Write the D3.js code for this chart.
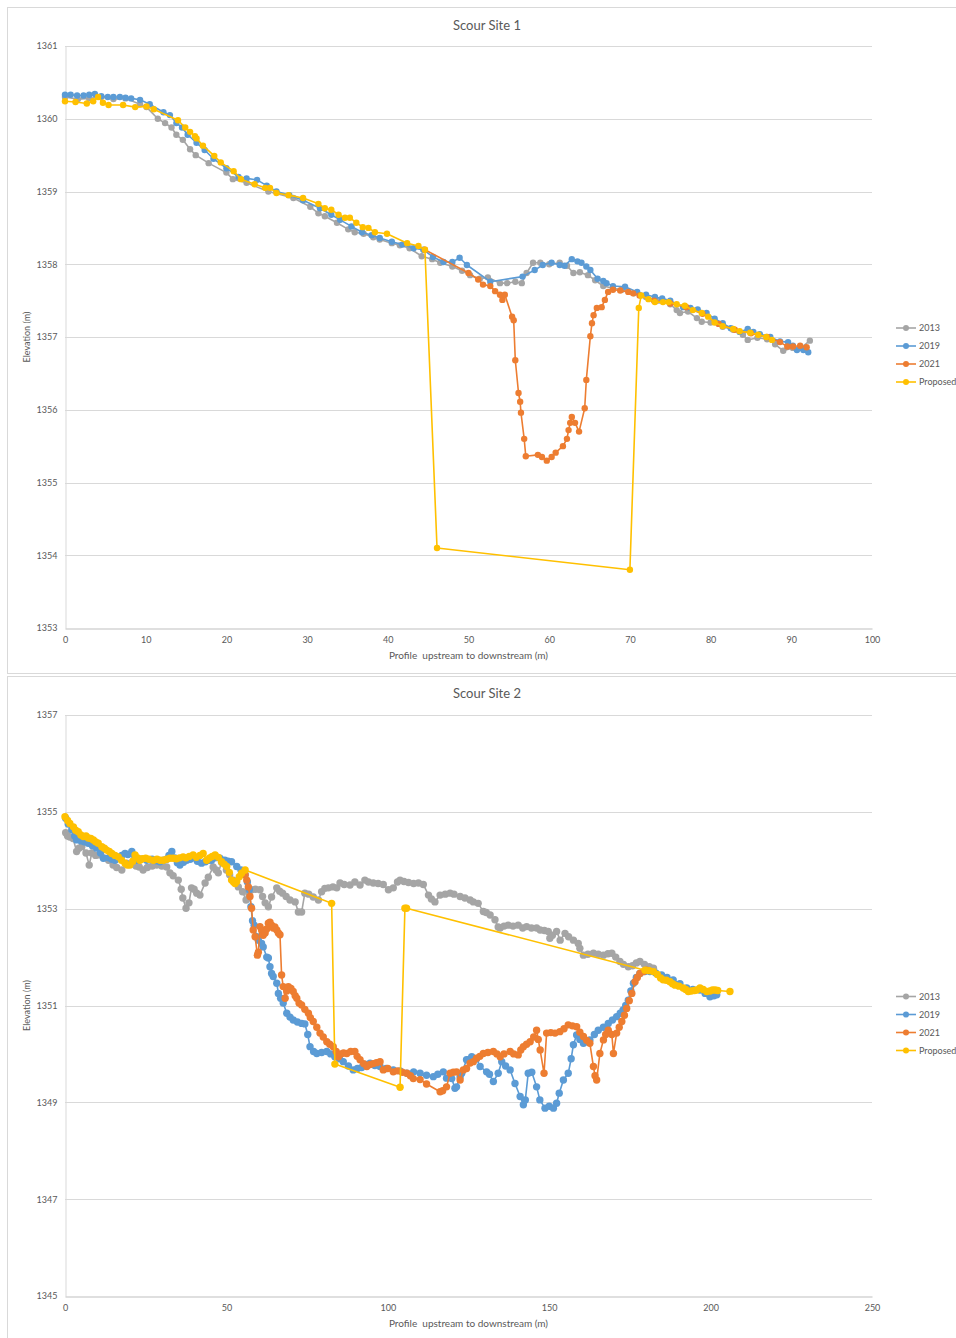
<!DOCTYPE html>
<html><head><meta charset="utf-8">
<script src="https://cdn.jsdelivr.net/npm/d3@7"></script>
<style>body{margin:0;background:#fff}svg{display:block}text{font-family:Lato,"Liberation Sans",sans-serif;fill:#595959;white-space:pre}</style>
</head><body>
<svg id="c" width="956" height="1338"></svg>
<script>
const seriesNames = ["2013","2019","2021","Proposed"];
const seriesColors = ["#A5A5A5","#5B9BD5","#ED7D31","#FFC000"];

// ---------- Scour Site 1 ----------
const site1XTicks = [0,10,20,30,40,50,60,70,80,90,100];
const site1YTicks = [1353,1354,1355,1356,1357,1358,1359,1360,1361];
const site1_2013 = [[0,1360.3],[1.6,1360.27],[3,1360.28],[4.5,1360.3],[6,1360.27],[7.5,1360.28],[9.3,1360.2],[10.1,1360.16],[11.5,1360.0],[12.4,1359.94],[13.2,1359.88],[13.8,1359.78],[14.6,1359.71],[15.5,1359.58],[16.2,1359.5],[17.8,1359.39],[20,1359.26],[20.8,1359.17],[22.5,1359.12],[25.2,1359.0],[28.3,1358.91],[30.4,1358.79],[31.4,1358.7],[32.2,1358.66],[33.7,1358.57],[35.1,1358.48],[35.9,1358.44],[37,1358.42],[38.2,1358.37],[39,1358.34],[40.5,1358.29],[41.5,1358.26],[42.7,1358.22],[44.2,1358.11],[45.5,1358.07],[46.5,1358.02],[48,1357.97],[49.2,1357.91],[50.2,1357.85],[51.4,1357.8],[52.4,1357.82],[53.9,1357.74],[54.8,1357.74],[55.8,1357.76],[56.6,1357.74],[57.2,1357.88],[58,1358.02],[58.9,1358.02],[60,1358.0],[61.3,1358.02],[62.2,1357.98],[63,1357.88],[63.8,1357.89],[64.8,1357.85],[65.7,1357.78],[66.7,1357.7],[67.9,1357.67],[69,1357.65],[70.5,1357.6],[72,1357.55],[73.5,1357.5],[75,1357.45],[75.8,1357.37],[76.2,1357.33],[77.2,1357.35],[78.3,1357.26],[78.9,1357.21],[80,1357.2],[81.5,1357.14],[82.8,1357.1],[84,1357.03],[84.6,1356.96],[85.8,1356.99],[87,1356.97],[88,1356.9],[89,1356.81],[90.2,1356.85],[91.2,1356.85],[92.3,1356.95]];
const site1_2019 = [[0,1360.33],[0.7,1360.33],[1.5,1360.32],[2.3,1360.32],[3,1360.33],[3.7,1360.34],[4.5,1360.31],[5.3,1360.3],[6,1360.3],[6.8,1360.3],[7.5,1360.29],[8.2,1360.28],[9.3,1360.26],[10.5,1360.2],[12.2,1360.09],[13.0,1360.05],[13.8,1359.94],[14.5,1359.88],[15.2,1359.78],[16.3,1359.67],[17.3,1359.57],[18.4,1359.45],[20,1359.32],[21.5,1359.2],[22.5,1359.18],[23.8,1359.16],[25,1359.08],[26.2,1359.0],[27.8,1358.95],[29.5,1358.88],[31.6,1358.77],[33,1358.68],[34.1,1358.61],[35.5,1358.52],[36.8,1358.44],[38,1358.4],[39,1358.36],[40.5,1358.31],[41.8,1358.27],[43.2,1358.22],[44.4,1358.2],[45.6,1358.1],[46.9,1358.03],[48,1358.03],[48.9,1358.09],[49.8,1357.99],[52.7,1357.76],[56.7,1357.83],[58.2,1357.92],[59.2,1357.99],[60.3,1358.02],[61.3,1357.99],[61.9,1357.98],[62.8,1358.07],[63.5,1358.04],[64,1358.02],[64.6,1357.97],[65.1,1357.92],[66,1357.8],[66.7,1357.77],[67.1,1357.74],[67.9,1357.7],[69.4,1357.69],[70.9,1357.62],[72,1357.58],[73.1,1357.55],[74,1357.53],[75,1357.5],[76.6,1357.41],[77.5,1357.4],[78.4,1357.38],[79.5,1357.33],[80.5,1357.25],[81.5,1357.19],[82.5,1357.12],[83.6,1357.07],[84.6,1357.11],[85.3,1357.07],[86.1,1357.04],[87.4,1357.0],[88.6,1356.94],[89.6,1356.93],[90.2,1356.88],[90.7,1356.82],[91.5,1356.82],[92.1,1356.79]];
const site1_2021 = [[44.6,1358.2],[50,1357.88],[51.2,1357.79],[51.8,1357.72],[52.7,1357.7],[53.3,1357.63],[53.9,1357.58],[54.2,1357.51],[54.5,1357.58],[55.4,1357.28],[55.6,1357.23],[55.8,1356.68],[56.2,1356.23],[56.4,1356.11],[56.5,1355.96],[56.9,1355.6],[57.1,1355.36],[58.6,1355.38],[59.1,1355.35],[59.7,1355.3],[60.3,1355.35],[60.8,1355.41],[61.7,1355.5],[62.2,1355.6],[62.4,1355.72],[62.6,1355.82],[62.8,1355.9],[63.2,1355.82],[63.7,1355.7],[64.4,1356.02],[64.6,1356.41],[65.1,1357.01],[65.3,1357.19],[65.5,1357.3],[65.9,1357.4],[66.5,1357.41],[66.9,1357.51],[67.3,1357.62],[67.9,1357.65],[68.8,1357.64],[69.8,1357.62],[70.4,1357.6],[71.2,1357.57],[73,1357.5],[75,1357.46],[77,1357.41],[79,1357.32],[81,1357.18],[83,1357.1],[85,1357.05],[87,1357.0],[88.6,1356.93],[89.5,1356.87],[90.2,1356.87],[91.1,1356.88],[91.9,1356.86]];
const site1_proposed = [[0,1360.24],[1.3,1360.23],[2.7,1360.21],[3.5,1360.24],[4.1,1360.3],[4.7,1360.22],[5.4,1360.19],[7.2,1360.19],[8.7,1360.16],[10.1,1360.17],[11.0,1360.13],[14,1359.98],[14.9,1359.88],[15.5,1359.82],[16.1,1359.76],[16.3,1359.73],[17.1,1359.63],[18.5,1359.49],[19.3,1359.4],[20.9,1359.28],[21.8,1359.17],[23.5,1359.1],[24.8,1359.05],[25.4,1359.05],[26.2,1358.98],[27.7,1358.95],[29.5,1358.91],[31.4,1358.83],[32.2,1358.77],[33,1358.75],[33.9,1358.68],[34.7,1358.64],[35.3,1358.64],[36.1,1358.57],[36.9,1358.51],[37.6,1358.5],[38.4,1358.44],[39.9,1358.42],[42.4,1358.29],[43.8,1358.25],[44.6,1358.2],[46.1,1354.1],[70.0,1353.8],[71.1,1357.4],[71.4,1357.57],[72.3,1357.52],[73.1,1357.48],[74.1,1357.48],[74.8,1357.48],[75.8,1357.45],[76.8,1357.43],[77.8,1357.37],[78.9,1357.33],[79.7,1357.28],[80.5,1357.2],[81.5,1357.15],[82.8,1357.11],[83.6,1357.08],[84.9,1357.06],[85.9,1357.03],[86.9,1357.0],[87.6,1356.96]];

// ---------- Scour Site 2 ----------
const site2XTicks = [0,50,100,150,200,250];
const site2YTicks = [1345,1347,1349,1351,1353,1355,1357];
const site2_2013 = [[0.2,1354.57],[0.8,1354.5],[1.5,1354.48],[2.5,1354.45],[3.6,1354.18],[4.3,1354.25],[5.2,1354.28],[6.5,1354.15],[7.5,1353.9],[8.3,1354.15],[9.5,1354.1],[10.8,1354.11],[12,1354.05],[13.5,1354.0],[14.9,1353.9],[16,1353.85],[17.6,1353.8],[19.1,1353.94],[20.5,1353.92],[22,1353.88],[23,1353.86],[24.2,1353.8],[25.5,1353.85],[27,1353.88],[28.4,1353.9],[30,1353.88],[31.5,1353.86],[32.5,1353.74],[33.5,1353.68],[35.1,1353.59],[36,1353.4],[36.5,1353.22],[37.5,1353.01],[38.4,1353.12],[39.2,1353.43],[40,1353.4],[40.8,1353.32],[41.8,1353.28],[43.4,1353.53],[44.4,1353.65],[45.9,1353.86],[46.8,1353.8],[47.5,1353.74],[48.5,1353.96],[50,1353.8],[51,1353.7],[52.1,1353.59],[53.7,1353.45],[55,1353.35],[56.1,1353.18],[57,1353.3],[57.8,1353.39],[59,1353.4],[60.4,1353.39],[61.2,1353.25],[62,1353.12],[63,1353.04],[64,1353.24],[65.6,1353.43],[66.5,1353.36],[67.4,1353.32],[68.5,1353.25],[69.7,1353.18],[71.3,1353.14],[72.3,1352.93],[73.3,1352.93],[74.3,1353.32],[75.5,1353.3],[76.9,1353.24],[78.5,1353.18],[79.5,1353.35],[80.5,1353.42],[81.6,1353.43],[83,1353.45],[84.2,1353.43],[85.2,1353.53],[86.5,1353.5],[88.3,1353.49],[89.8,1353.55],[91.4,1353.49],[92.9,1353.59],[94,1353.55],[95.5,1353.53],[97,1353.52],[98.6,1353.5],[100.2,1353.39],[101.7,1353.43],[103,1353.55],[103.8,1353.59],[105,1353.56],[106.4,1353.54],[108,1353.52],[109.5,1353.53],[111,1353.5],[112.6,1353.28],[113.5,1353.2],[114.6,1353.14],[116.2,1353.28],[117.8,1353.3],[119.3,1353.32],[120.5,1353.3],[122.4,1353.25],[123.9,1353.22],[125.5,1353.18],[126.5,1353.14],[128,1353.11],[129.6,1352.94],[130.5,1352.92],[131.7,1352.87],[133.2,1352.77],[134.2,1352.62],[134.8,1352.6],[136,1352.64],[137.3,1352.66],[138.8,1352.64],[140.4,1352.66],[141.8,1352.6],[143,1352.63],[144.5,1352.6],[146.1,1352.6],[147.2,1352.56],[148.5,1352.55],[149.7,1352.53],[150.2,1352.39],[151,1352.45],[152.3,1352.53],[153.4,1352.35],[154.9,1352.49],[156,1352.42],[157.5,1352.35],[159,1352.28],[159.5,1352.18],[160.6,1352.04],[162,1352.06],[163.7,1352.08],[165.2,1352.06],[166.8,1352.04],[168.2,1352.07],[169.4,1352.08],[170.6,1352.0],[171.9,1351.91],[173,1351.85],[174.5,1351.8],[175.8,1351.82],[177,1351.88],[178.1,1351.91],[179.5,1351.85],[181,1351.8],[182.3,1351.77]];
const site2_2019 = [[0.2,1354.87],[1,1354.75],[2.1,1354.63],[3,1354.5],[3.6,1354.42],[5,1354.4],[6,1354.38],[7.2,1354.35],[8.5,1354.3],[9.8,1354.25],[11,1354.15],[11.9,1354.04],[13.5,1354.05],[14.5,1354.02],[15.5,1354.0],[16.8,1354.05],[17.6,1354.1],[18.6,1354.14],[19.5,1354.12],[20.7,1354.18],[21.5,1354.1],[22.2,1354.0],[23.5,1354.02],[25.3,1354.0],[27,1354.02],[28.3,1353.99],[29.4,1353.97],[30.5,1354.0],[31.5,1354.02],[32.2,1354.1],[33.1,1354.18],[34,1354.05],[34.8,1353.95],[35.6,1353.9],[36.7,1353.96],[37.7,1354.0],[38.8,1354.02],[39.8,1354.05],[41,1353.98],[42.3,1353.94],[43.5,1353.97],[44.5,1354.0],[45.4,1354.0],[46.5,1354.05],[48,1354.04],[49.5,1354.0],[50.5,1353.98],[51.6,1353.97],[53.2,1353.87],[54.5,1353.8],[55.8,1353.7],[56.5,1353.55],[57.1,1353.39],[57.6,1353.04],[58.1,1352.75],[58.6,1352.66],[59.4,1352.42],[59.9,1352.35],[60.9,1352.28],[61.4,1352.21],[62.5,1352.0],[63,1351.98],[63.5,1351.8],[64,1351.66],[64.5,1351.6],[65.6,1351.46],[66.1,1351.25],[66.8,1351.15],[67.6,1351.05],[68.7,1350.84],[69.7,1350.76],[70.7,1350.7],[72,1350.66],[73.3,1350.63],[74.3,1350.62],[75.2,1350.4],[75.9,1350.15],[77,1350.05],[78,1350.01],[79.5,1350.03],[81.1,1350.05],[82.3,1350.0],[83.6,1349.94],[85,1349.9],[86.2,1349.84],[87.8,1349.75],[89.3,1349.67],[90.6,1349.7],[91.9,1349.72],[93.2,1349.78],[94.5,1349.81],[96,1349.76],[97.6,1349.74],[99.5,1349.7],[101.7,1349.67],[103.8,1349.65],[105.9,1349.6],[108,1349.63],[110,1349.6],[112,1349.56],[114.1,1349.53],[115.5,1349.58],[117.2,1349.63],[118.2,1349.5],[119.8,1349.49],[120.8,1349.29],[121.3,1349.32],[122.4,1349.53],[122.9,1349.6],[124.4,1349.88],[125,1349.88],[126,1349.94],[127.5,1349.9],[128.6,1349.74],[130.6,1349.63],[131.5,1349.58],[132.7,1349.43],[134.2,1349.6],[135.3,1349.84],[136.5,1349.75],[137.9,1349.67],[139.4,1349.39],[141,1349.12],[142,1348.95],[142.6,1349.05],[143.5,1349.6],[144.6,1349.62],[146.1,1349.32],[147.1,1349.05],[148.7,1348.88],[150,1348.92],[151.3,1348.88],[152.3,1348.98],[153.1,1349.19],[154.4,1349.46],[155.9,1349.6],[156.8,1349.9],[157.5,1350.19],[158.5,1350.39],[159.5,1350.3],[160.6,1350.22],[161.5,1350.25],[162.6,1350.29],[164,1350.4],[165.2,1350.49],[166.8,1350.55],[168.3,1350.63],[169.6,1350.7],[170.9,1350.77],[172,1350.84],[172.9,1350.91],[173.7,1351.0],[174.5,1351.11],[175.3,1351.3],[176.1,1351.46],[177,1351.58],[178.1,1351.66],[179.6,1351.7],[181.2,1351.7],[183,1351.67],[184.8,1351.63],[186.5,1351.58],[188.4,1351.53],[190.5,1351.45],[192.6,1351.36],[194.5,1351.33],[196.7,1351.32],[198.3,1351.25],[199.8,1351.18],[201,1351.2],[201.9,1351.22]];
const site2_2021 = [[55.8,1353.7],[56.3,1353.59],[56.8,1353.45],[57.3,1353.25],[57.8,1353.01],[58.3,1352.56],[58.9,1352.42],[59.6,1352.04],[59.9,1352.1],[60.4,1352.63],[60.9,1352.56],[61.4,1352.45],[62,1352.5],[62.5,1352.58],[63,1352.7],[63.5,1352.72],[64,1352.66],[64.5,1352.6],[65,1352.62],[65.6,1352.56],[66.1,1352.5],[66.6,1352.46],[67.1,1351.63],[67.6,1351.39],[68.2,1351.15],[68.7,1351.3],[69.2,1351.39],[70,1351.35],[70.7,1351.29],[71.3,1351.2],[71.8,1351.15],[72.5,1351.05],[73.3,1351.01],[74.3,1350.92],[75.4,1350.84],[76,1350.75],[76.9,1350.67],[78,1350.55],[79,1350.43],[80,1350.35],[81.1,1350.25],[82,1350.2],[83.1,1350.15],[84,1350.05],[84.7,1349.94],[85.5,1350.0],[86.3,1350.02],[87.3,1350.01],[88.5,1350.05],[89.8,1350.05],[90.5,1349.95],[91.4,1349.88],[92.5,1349.8],[93.5,1349.74],[94.5,1349.78],[95.5,1349.8],[96.5,1349.82],[97.6,1349.84],[98.6,1349.67],[100,1349.7],[101.7,1349.63],[103,1349.65],[104.5,1349.62],[105.9,1349.6],[107,1349.55],[107.9,1349.49],[110,1349.47],[112,1349.38],[116.2,1349.22],[117,1349.24],[118.2,1349.32],[119.3,1349.6],[120.3,1349.62],[121.3,1349.63],[122.4,1349.46],[123.4,1349.67],[124.4,1349.7],[125.5,1349.81],[126.5,1349.84],[127.5,1349.91],[128.5,1349.95],[129.6,1350.01],[131,1350.03],[132.7,1350.05],[133.8,1350.0],[134.8,1349.94],[136,1350.0],[137.9,1350.05],[139,1350.0],[140.4,1349.98],[141.2,1350.08],[142,1350.15],[143,1350.2],[144.1,1350.25],[145.2,1350.35],[146.1,1350.49],[146.6,1350.3],[147.2,1350.08],[148.4,1349.6],[149.2,1350.43],[150.5,1350.44],[151.8,1350.43],[153.3,1350.46],[154.6,1350.52],[155.9,1350.6],[157.2,1350.58],[158.5,1350.56],[159.5,1350.45],[160.6,1350.36],[161.6,1350.28],[162.6,1350.22],[163.7,1349.74],[164.2,1349.55],[164.7,1349.46],[165.7,1350.01],[166.8,1350.29],[167.5,1350.4],[168.3,1350.49],[169.4,1350.4],[169.9,1350.01],[170.9,1350.43],[171.7,1350.55],[172.5,1350.67],[173.3,1350.8],[174,1350.94],[174.8,1351.1],[175.6,1351.25],[176.6,1351.49],[177.3,1351.58],[178.1,1351.66],[179.2,1351.7],[180.2,1351.73]];
const site2_proposed = [[0,1354.9],[0.8,1354.82],[1.5,1354.76],[2.6,1354.69],[3.3,1354.62],[4.1,1354.59],[4.9,1354.52],[5.7,1354.49],[6.5,1354.5],[7.2,1354.46],[8,1354.45],[8.8,1354.42],[9.5,1354.38],[10.3,1354.35],[11.4,1354.28],[12.2,1354.25],[12.9,1354.21],[13.7,1354.18],[14.5,1354.14],[15.5,1354.1],[16.5,1354.07],[17.5,1354.0],[18.6,1353.94],[19.3,1353.9],[20.1,1353.9],[21,1353.98],[21.7,1354.11],[22.5,1354.05],[23.2,1354.0],[24,1354.03],[25,1354.04],[26,1354.02],[27.4,1354.0],[28.5,1354.02],[29.5,1354.0],[30.5,1354.0],[31.5,1354.02],[32.5,1354.04],[33.5,1354.04],[34.5,1354.03],[35.5,1354.05],[36.6,1354.07],[37.5,1354.05],[38.5,1354.08],[39.7,1354.11],[40.7,1354.06],[41.8,1354.1],[42.8,1354.14],[43.9,1354.0],[44.8,1354.05],[45.6,1354.08],[46.5,1354.11],[47.5,1354.06],[48.5,1353.97],[49.3,1353.92],[50.1,1353.87],[50.9,1353.75],[51.6,1353.59],[52.2,1353.55],[52.7,1353.52],[53.2,1353.56],[54,1353.66],[54.7,1353.73],[55.8,1353.8],[82.6,1353.11],[83.6,1349.79],[103.8,1349.31],[105.3,1353.01],[105.8,1353.01],[179.7,1351.73],[181,1351.72],[182.3,1351.7],[183.5,1351.64],[184.5,1351.57],[185.3,1351.53],[186.3,1351.52],[187.4,1351.49],[188.2,1351.45],[189,1351.42],[190.2,1351.4],[191.5,1351.36],[192.3,1351.33],[193.1,1351.29],[194,1351.3],[195,1351.31],[195.7,1351.32],[196.7,1351.36],[197.7,1351.33],[198.8,1351.29],[199.8,1351.3],[200.6,1351.32],[201.4,1351.32],[202.2,1351.31],[206,1351.29]];

const svg = d3.select("#c");

function drawChart(cfg) {
  const g = svg.append("g");
  g.append("rect").attr("x", cfg.panel[0]).attr("y", cfg.panel[1])
    .attr("width", cfg.panel[2]).attr("height", cfg.panel[3])
    .attr("fill", "#fff").attr("stroke", "#d9d9d9").attr("stroke-width", 1);

  const x = d3.scaleLinear().domain(cfg.xDomain).range([cfg.plot.left, cfg.plot.right]);
  const y = d3.scaleLinear().domain(cfg.yDomain).range([cfg.plot.bottom, cfg.plot.top]);

  g.append("g").selectAll("line").data(cfg.yTicks.filter(t => t !== cfg.yDomain[0])).join("line")
    .attr("x1", x(cfg.xDomain[0])).attr("x2", x(cfg.xDomain[1]))
    .attr("y1", d => Math.round(y(d)) + 0.5).attr("y2", d => Math.round(y(d)) + 0.5)
    .attr("stroke", "#d9d9d9").attr("stroke-width", 1);

  const yAxis = d3.axisLeft(y).tickValues(cfg.yTicks).tickSize(0).tickPadding(8).tickFormat(d3.format("d"));
  const yG = g.append("g").attr("transform", `translate(${cfg.plot.left + 0.5},0)`).call(yAxis);
  yG.select(".domain").attr("stroke", "#d9d9d9");
  yG.selectAll("text").attr("font-size", 9).attr("fill", "#595959").style("font-family", "Lato, 'Liberation Sans', sans-serif");

  const xAxis = d3.axisBottom(x).tickValues(cfg.xTicks).tickSize(0).tickPadding(8).tickFormat(d3.format("d"));
  const xG = g.append("g").attr("transform", `translate(0,${Math.round(cfg.plot.bottom) + 0.5})`).call(xAxis);
  xG.select(".domain").attr("stroke", "#bfbfbf");
  xG.selectAll("text").attr("font-size", 9).attr("fill", "#595959").style("font-family", "Lato, 'Liberation Sans', sans-serif");

  g.append("text").attr("x", cfg.titleX).attr("y", cfg.titleY).attr("text-anchor", "middle")
    .attr("font-size", 13).text(cfg.title);
  g.append("text").attr("x", (cfg.plot.left + cfg.plot.right) / 2).attr("y", cfg.plot.bottom + 31)
    .attr("text-anchor", "middle").attr("font-size", 10).attr("xml:space", "preserve")
    .text("Profile  upstream to downstream (m)");
  g.append("text").attr("transform", `translate(30,${(cfg.plot.top + cfg.plot.bottom) / 2}) rotate(-90)`)
    .attr("text-anchor", "middle").attr("font-size", 9).text("Elevation (m)");

  const line = d3.line().x(d => x(d[0])).y(d => y(d[1]));
  cfg.series.forEach((s, i) => {
    const sg = g.append("g");
    sg.append("path").datum(s).attr("d", line).attr("fill", "none")
      .attr("stroke", seriesColors[i]).attr("stroke-width", 1.6).attr("stroke-linejoin", "round");
    sg.selectAll("circle").data(s).join("circle")
      .attr("cx", d => x(d[0])).attr("cy", d => y(d[1])).attr("r", cfg.r)
      .attr("fill", seriesColors[i]);
  });

  const lg = g.append("g");
  seriesNames.forEach((n, i) => {
    const ly = cfg.legendY + i * 18;
    lg.append("line").attr("x1", 896).attr("x2", 916).attr("y1", ly).attr("y2", ly)
      .attr("stroke", seriesColors[i]).attr("stroke-width", 1.6);
    lg.append("circle").attr("cx", 906).attr("cy", ly).attr("r", 3).attr("fill", seriesColors[i]);
    lg.append("text").attr("x", 919).attr("y", ly + 3).attr("font-size", 9).text(n);
  });
}

drawChart({
  panel: [7.5, 7.5, 960, 666],
  plot: {left: 65, right: 872, top: 46, bottom: 628},
  xDomain: [0, 100], yDomain: [1353, 1361],
  xTicks: site1XTicks, yTicks: site1YTicks,
  title: "Scour Site 1", titleX: 487, titleY: 30,
  series: [site1_2013, site1_2019, site1_2021, site1_proposed],
  legendY: 328, r: 3.2
});
drawChart({
  panel: [7.5, 676.5, 960, 700],
  plot: {left: 65, right: 872, top: 715, bottom: 1296},
  xDomain: [0, 250], yDomain: [1345, 1357],
  xTicks: site2XTicks, yTicks: site2YTicks,
  title: "Scour Site 2", titleX: 487, titleY: 698,
  series: [site2_2013, site2_2019, site2_2021, site2_proposed],
  legendY: 996.5, r: 3.7
});
</script>
</body></html>
